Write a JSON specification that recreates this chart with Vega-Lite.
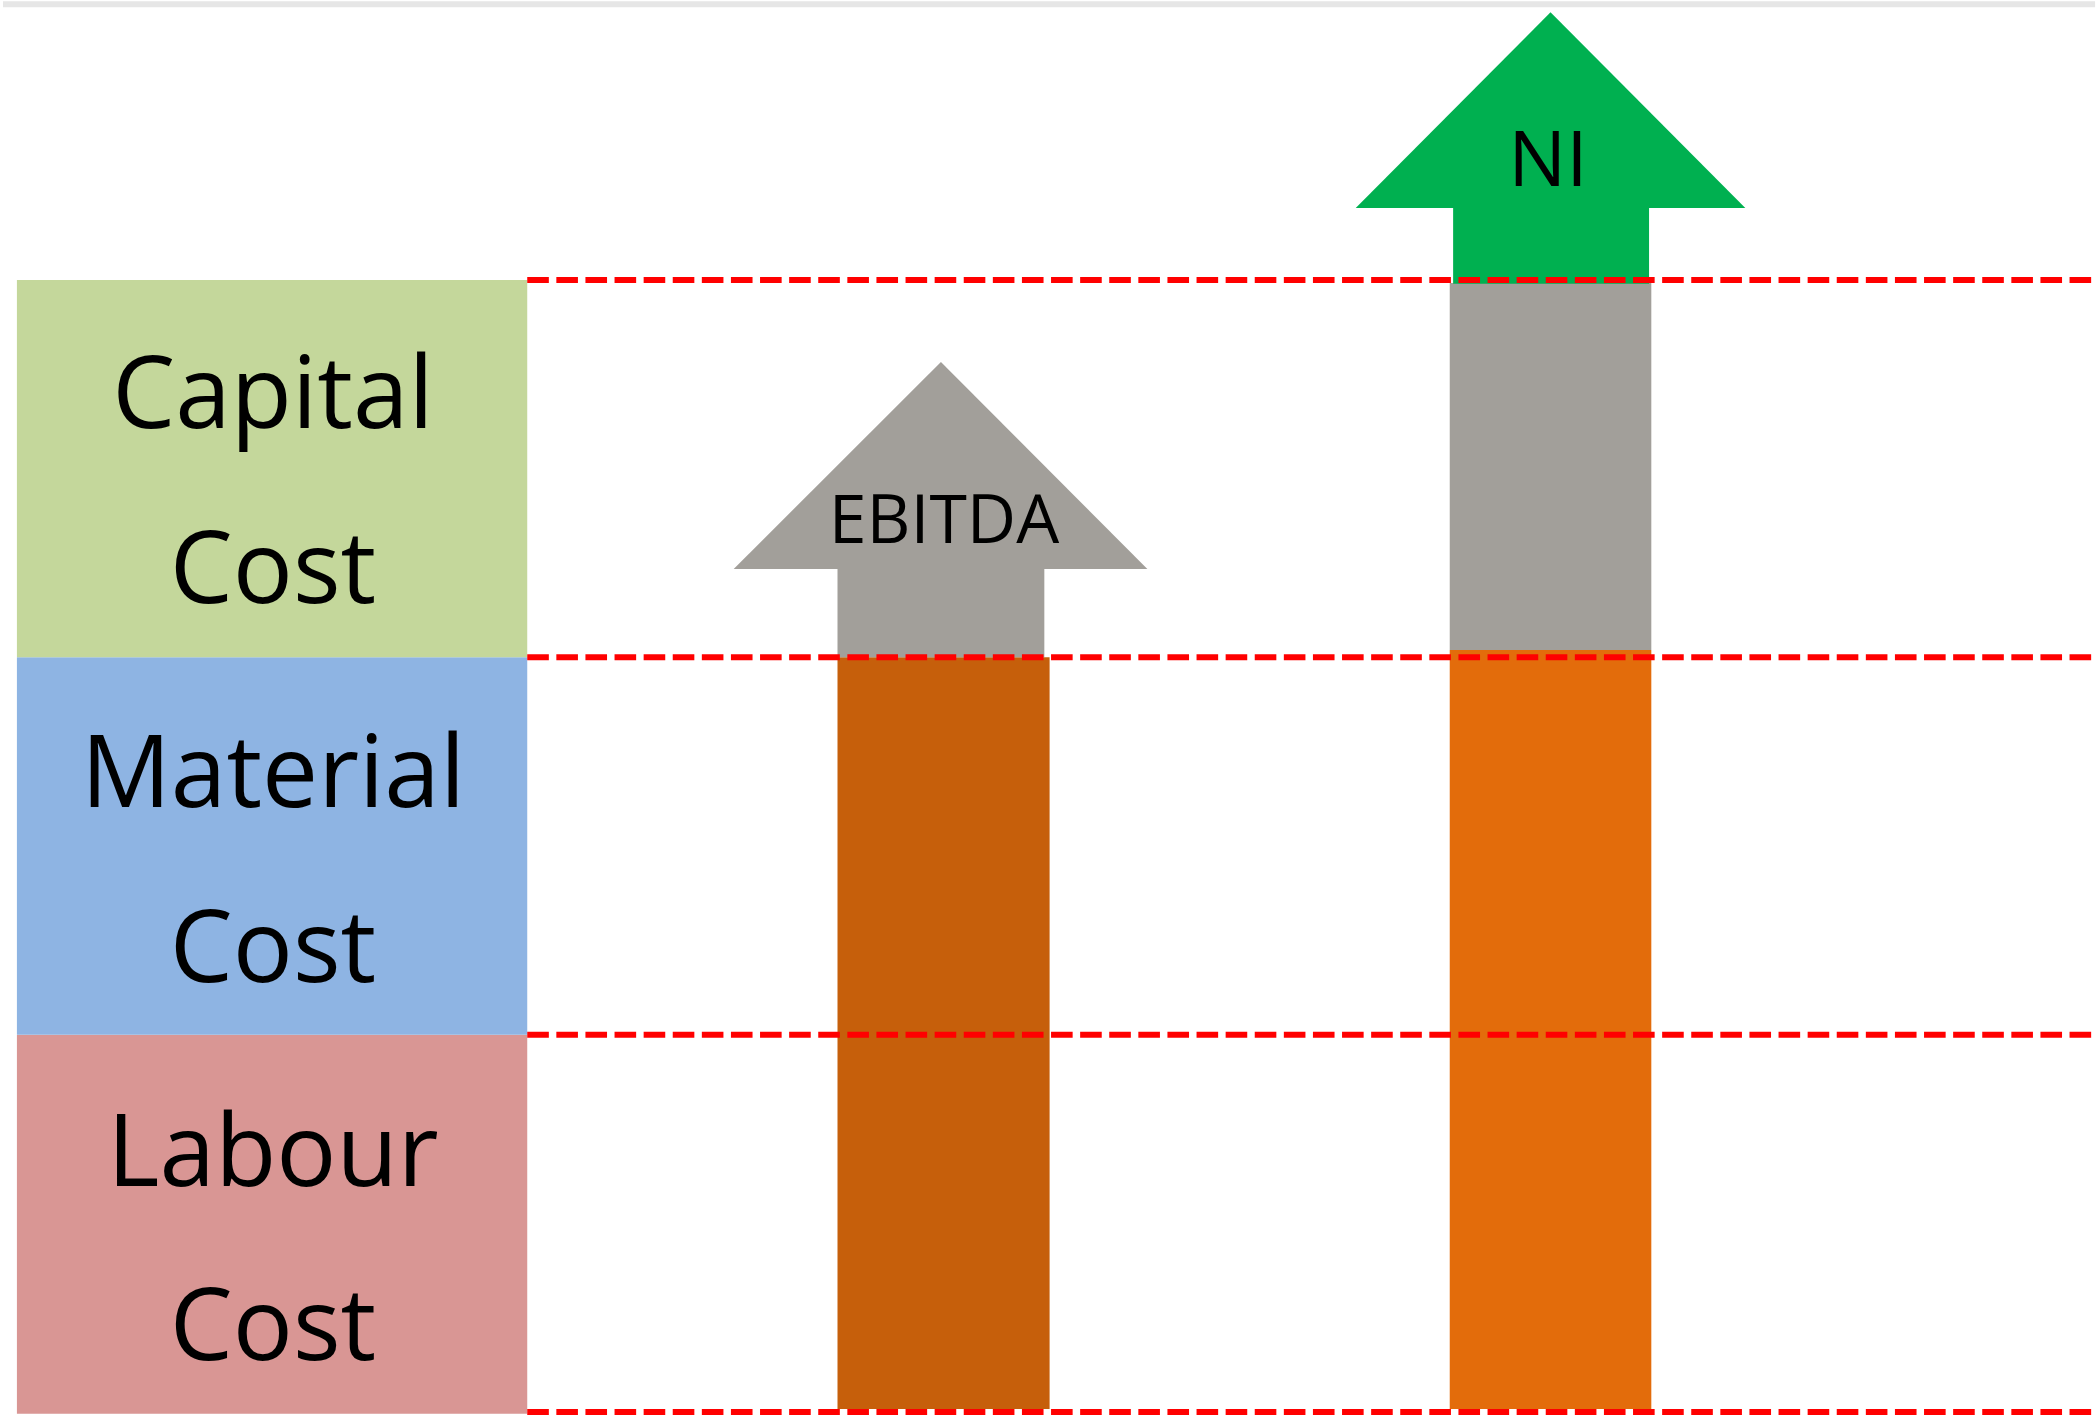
{
  "$schema": "https://vega.github.io/schema/vega-lite/v6.json",
  "width": 2099,
  "height": 1415,
  "autosize": {"type": "fit", "contains": "padding"},
  "padding": 0,
  "background": "white",
  "config": {"view": {"stroke": null}},
  "datasets": {
    "boxes": [
      {"part": "Labour Cost", "x0": 0.037, "x1": 1.394, "y0": -0.005, "y1": 1.0},
      {"part": "Material Cost", "x0": 0.037, "x1": 1.394, "y0": 1.0, "y1": 2.0},
      {"part": "Capital Cost", "x0": 0.037, "x1": 1.394, "y0": 2.0, "y1": 3.0}
    ],
    "bars": [
      {"item": "EBITDA", "part": "Operating cost", "x0": 2.219, "x1": 2.783, "y0": 0.008, "y1": 2.0},
      {"item": "EBITDA", "part": "EBITDA", "x0": 2.219, "x1": 2.769, "y0": 2.0, "y1": 2.235},
      {"item": "NI", "part": "Total operating cost", "x0": 3.847, "x1": 4.383, "y0": 0.008, "y1": 2.0195},
      {"item": "NI", "part": "Capital charge", "x0": 3.847, "x1": 4.383, "y0": 2.0195, "y1": 2.992},
      {"item": "NI", "part": "NI", "x0": 3.856, "x1": 4.377, "y0": 2.99, "y1": 3.192}
    ],
    "heads": [
      {"part": "EBITDA", "x": 1.943, "y": 2.234, "base": 2.234},
      {"part": "EBITDA", "x": 2.494, "y": 2.783, "base": 2.234},
      {"part": "EBITDA", "x": 3.043, "y": 2.234, "base": 2.234},
      {"part": "NI", "x": 3.597, "y": 3.191, "base": 3.191},
      {"part": "NI", "x": 4.115, "y": 3.7095, "base": 3.191},
      {"part": "NI", "x": 4.633, "y": 3.191, "base": 3.191}
    ],
    "levels": [
      {"level": 0.0, "from": 1.394, "to": 5.58},
      {"level": 1.0, "from": 1.394, "to": 5.58},
      {"level": 2.0, "from": 1.394, "to": 5.58},
      {"level": 3.0, "from": 1.394, "to": 5.58}
    ],
    "frame": [
      {"level": 3.731, "from": 0, "to": 5.563}
    ],
    "labels": [
      {"group": "box", "text": "Capital", "x": 0.718, "y": 2.608},
      {"group": "box", "text": "Cost", "x": 0.718, "y": 2.143},
      {"group": "box", "text": "Material", "x": 0.718, "y": 1.604},
      {"group": "box", "text": "Cost", "x": 0.718, "y": 1.14},
      {"group": "box", "text": "Labour", "x": 0.718, "y": 0.599},
      {"group": "box", "text": "Cost", "x": 0.718, "y": 0.138},
      {"group": "ebitda", "text": "EBITDA", "x": 2.502, "y": 2.302},
      {"group": "ni", "text": "NI", "x": 4.108, "y": 3.25}
    ]
  },
  "layer": [
    {
      "data": {"name": "frame"},
      "mark": {"type": "rule", "color": "#e6e6e6", "strokeWidth": 6},
      "encoding": {
        "x": {"field": "from", "type": "quantitative", "scale": {"domain": [0, 5.5628], "nice": false, "zero": false}, "axis": null},
        "x2": {"field": "to"},
        "y": {"field": "level", "type": "quantitative", "scale": {"domain": [-0.008, 3.7421], "nice": false, "zero": false}, "axis": null}
      }
    },
    {
      "data": {"name": "boxes"},
      "mark": {"type": "rect"},
      "encoding": {
        "x": {"field": "x0", "type": "quantitative"},
        "x2": {"field": "x1"},
        "y": {"field": "y0", "type": "quantitative"},
        "y2": {"field": "y1"},
        "color": {
          "field": "part", "type": "nominal", "legend": null,
          "scale": {
            "domain": ["Labour Cost", "Material Cost", "Capital Cost", "Operating cost", "EBITDA", "Total operating cost", "Capital charge", "NI"],
            "range": ["#D99694", "#8EB4E3", "#C4D79B", "#C65F0B", "#A29F9A", "#E36C0B", "#A29F9A", "#00B050"]
          }
        }
      }
    },
    {
      "data": {"name": "bars"},
      "mark": {"type": "rect"},
      "encoding": {
        "x": {"field": "x0", "type": "quantitative"},
        "x2": {"field": "x1"},
        "y": {"field": "y0", "type": "quantitative"},
        "y2": {"field": "y1"},
        "color": {"field": "part", "type": "nominal", "legend": null}
      }
    },
    {
      "data": {"name": "heads"},
      "mark": {"type": "area", "orient": "vertical", "interpolate": "linear"},
      "encoding": {
        "x": {"field": "x", "type": "quantitative"},
        "y": {"field": "y", "type": "quantitative"},
        "y2": {"field": "base"},
        "color": {"field": "part", "type": "nominal", "legend": null}
      }
    },
    {
      "data": {"name": "levels"},
      "mark": {"type": "rule", "color": "#FF0000", "strokeWidth": 6, "strokeDash": [21.6, 7.5], "clip": true},
      "encoding": {
        "x": {"field": "from", "type": "quantitative"},
        "x2": {"field": "to"},
        "y": {"field": "level", "type": "quantitative"}
      }
    },
    {
      "data": {"name": "labels"},
      "transform": [{"filter": "datum.group === 'box'"}],
      "mark": {"type": "text", "font": "Open Sans", "fontSize": 100, "color": "#000000", "align": "center", "baseline": "alphabetic"},
      "encoding": {
        "x": {"field": "x", "type": "quantitative"},
        "y": {"field": "y", "type": "quantitative"},
        "text": {"field": "text"}
      }
    },
    {
      "data": {"name": "labels"},
      "transform": [{"filter": "datum.group === 'ebitda'"}],
      "mark": {"type": "text", "font": "Open Sans", "fontSize": 68, "color": "#000000", "align": "center", "baseline": "alphabetic"},
      "encoding": {
        "x": {"field": "x", "type": "quantitative"},
        "y": {"field": "y", "type": "quantitative"},
        "text": {"field": "text"}
      }
    },
    {
      "data": {"name": "labels"},
      "transform": [{"filter": "datum.group === 'ni'"}],
      "mark": {"type": "text", "font": "Open Sans", "fontSize": 77, "color": "#000000", "align": "center", "baseline": "alphabetic"},
      "encoding": {
        "x": {"field": "x", "type": "quantitative"},
        "y": {"field": "y", "type": "quantitative"},
        "text": {"field": "text"}
      }
    }
  ]
}
